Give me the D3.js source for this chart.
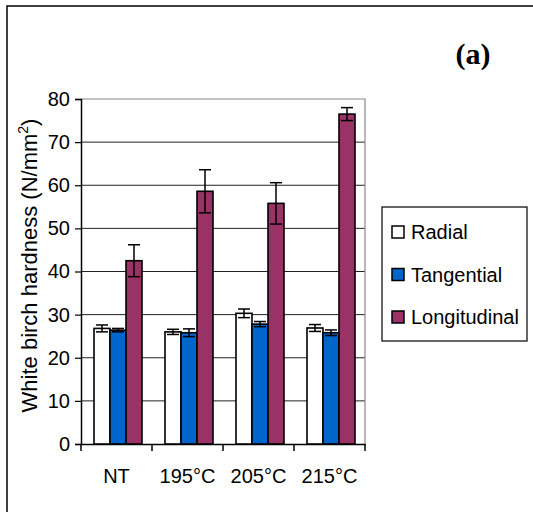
<!DOCTYPE html>
<html>
<head>
<meta charset="utf-8">
<script src="https://cdn.jsdelivr.net/npm/d3@7"></script>
<style>
  body { margin: 0; background: #fff; }
  text { font-family: Arial, "Liberation Sans", sans-serif; }
</style>
</head>
<body>
<div id="container"></div>
<script>
var categories = ["NT", "195°C", "205°C", "215°C"];
var series = ["Radial", "Tangential", "Longitudinal"];
var colors = ["#ffffff", "#0066cc", "#993366"];
var radial = [26.8, 26.0, 30.3, 26.9];
var radialErr = [0.8, 0.6, 1.0, 0.8];
var tangential = [26.4, 25.8, 27.8, 25.8];
var tangentialErr = [0.4, 0.9, 0.6, 0.65];
var longitudinal = [42.5, 58.6, 55.8, 76.5];
var longitudinalErr = [3.7, 5.0, 4.8, 1.5];
var yTicks = [0, 10, 20, 30, 40, 50, 60, 70, 80];

var values = [radial, tangential, longitudinal];
var errs = [radialErr, tangentialErr, longitudinalErr];

var width = 533, height = 512;
var plotLeft = 81, plotRight = 365, plotTop = 99, plotBottom = 444;

var svg = d3.select("#container")
  .append("svg")
  .attr("width", width)
  .attr("height", height);

// outer frame
svg.append("rect")
  .attr("x", 7).attr("y", 6)
  .attr("width", 560).attr("height", 540)
  .attr("fill", "none").attr("stroke", "#000").attr("stroke-width", 1.5);

var x = d3.scaleBand()
  .domain(categories)
  .range([plotLeft, plotRight]);

var x1 = d3.scaleBand()
  .domain(series)
  .range([0, 48]);

var y = d3.scaleLinear()
  .domain([0, 80])
  .range([plotBottom, plotTop]);

// gridlines
svg.append("g")
  .selectAll("line")
  .data(yTicks.slice(1, -1))
  .enter()
  .append("line")
  .attr("x1", plotLeft).attr("x2", plotRight)
  .attr("y1", function(d) { return y(d); })
  .attr("y2", function(d) { return y(d); })
  .attr("stroke", "#222").attr("stroke-width", 1);

// plot area border (top/right)
svg.append("path")
  .attr("d", "M" + plotLeft + "," + y(80) + "H" + plotRight + "V" + plotBottom)
  .attr("fill", "none").attr("stroke", "#888").attr("stroke-width", 1.2);

// y axis
var yAxis = svg.append("g")
  .attr("transform", "translate(" + plotLeft + ",0)")
  .call(d3.axisLeft(y).tickValues(yTicks).tickSize(6).tickPadding(5));
yAxis.select(".domain").attr("stroke", "#000").attr("stroke-width", 1.5);
yAxis.selectAll(".tick line").attr("stroke", "#000").attr("stroke-width", 1.2);
yAxis.selectAll("text")
  .style("font-size", "20px")
  .style("font-family", "Arial, 'Liberation Sans', sans-serif")
  .attr("fill", "#000");

// x axis
var xAxis = svg.append("g")
  .attr("transform", "translate(0," + plotBottom + ")")
  .call(d3.axisBottom(x).tickSize(0).tickPadding(25));
xAxis.select(".domain").attr("stroke", "#000").attr("stroke-width", 1.5);
xAxis.selectAll("text")
  .style("font-size", "20px")
  .style("font-family", "Arial, 'Liberation Sans', sans-serif")
  .attr("fill", "#000");

var xTickPos = categories.map(function(c) { return x(c); }).concat([plotRight]);
svg.append("g")
  .selectAll("line")
  .data(xTickPos)
  .enter()
  .append("line")
  .attr("x1", function(d) { return d; })
  .attr("x2", function(d) { return d; })
  .attr("y1", plotBottom).attr("y2", plotBottom + 7)
  .attr("stroke", "#000").attr("stroke-width", 1.5);

// bars
var groups = svg.append("g")
  .selectAll("g")
  .data(categories)
  .enter()
  .append("g")
  .attr("transform", function(d) {
    return "translate(" + (x(d) + (x.bandwidth() - 48) / 2 + 1.5) + ",0)";
  });

groups.each(function(c, ci) {
  var g = d3.select(this);
  series.forEach(function(s, si) {
    var v = values[si][ci], e = errs[si][ci];
    var bx = x1(s);
    g.append("rect")
      .attr("x", bx)
      .attr("y", y(v))
      .attr("width", x1.bandwidth())
      .attr("height", y(0) - y(v))
      .attr("fill", colors[si])
      .attr("stroke", "#000")
      .attr("stroke-width", 1.6);
    var cx = bx + x1.bandwidth() / 2;
    var eb = g.append("g").attr("stroke", "#000").attr("stroke-width", 1.5);
    eb.append("line")
      .attr("x1", cx).attr("x2", cx)
      .attr("y1", y(v + e)).attr("y2", y(v - e));
    eb.append("line")
      .attr("x1", cx - 6).attr("x2", cx + 6)
      .attr("y1", y(v + e)).attr("y2", y(v + e));
    eb.append("line")
      .attr("x1", cx - 6).attr("x2", cx + 6)
      .attr("y1", y(v - e)).attr("y2", y(v - e));
  });
});

// y label
var ylab = svg.append("text")
  .attr("transform", "translate(37," + ((plotTop + plotBottom) / 2 - 6) + ") rotate(-90)")
  .attr("text-anchor", "middle")
  .style("font-size", "22px");
ylab.append("tspan").text("White birch hardness (N/mm");
ylab.append("tspan").attr("dy", -9).style("font-size", "14px").text("2");
ylab.append("tspan").attr("dy", 9).text(")");

// panel label
svg.append("text")
  .attr("x", 473).attr("y", 64)
  .attr("text-anchor", "middle")
  .style("font-family", "'Liberation Serif', 'Times New Roman', serif")
  .style("font-weight", "bold")
  .style("font-size", "30px")
  .text("(a)");

// legend
var legend = svg.append("g");
legend.append("rect")
  .attr("x", 382).attr("y", 207)
  .attr("width", 145).attr("height", 134)
  .attr("fill", "#fff").attr("stroke", "#000").attr("stroke-width", 1.2);

var li = legend.selectAll("g.item")
  .data(series)
  .enter()
  .append("g")
  .attr("class", "item")
  .attr("transform", function(d, i) { return "translate(392," + (232 + i * 42.5) + ")"; });
li.append("rect")
  .attr("x", 0).attr("y", -6)
  .attr("width", 12).attr("height", 12)
  .attr("fill", function(d, i) { return colors[i]; })
  .attr("stroke", "#000").attr("stroke-width", 1.5);
li.append("text")
  .attr("x", 19).attr("y", 7)
  .style("font-size", "20px")
  .text(function(d) { return d; });
</script>
</body>
</html>
